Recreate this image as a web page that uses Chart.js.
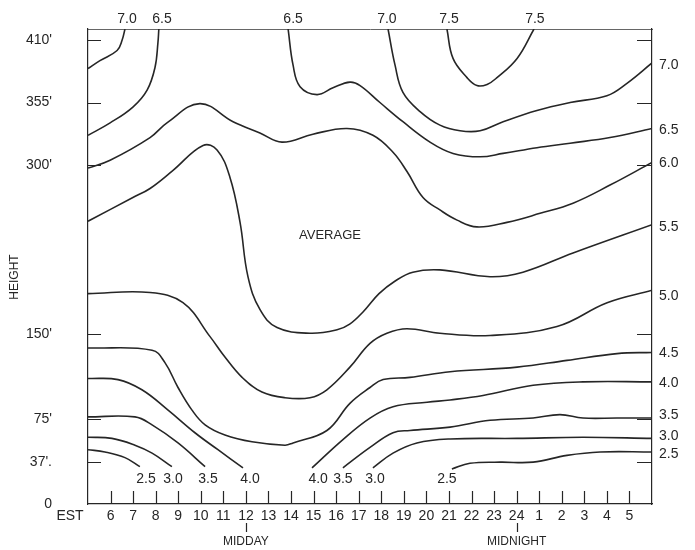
<!DOCTYPE html>
<html>
<head>
<meta charset="utf-8">
<script src="https://cdn.jsdelivr.net/npm/chart.js@4.4.1/dist/chart.umd.min.js"></script>
<style>
  html, body { margin: 0; padding: 0; background: #fff; }
  #wrap { width: 695px; height: 550px; }
</style>
</head>
<body>
<div id="wrap"><canvas id="grafico" width="695" height="550"></canvas></div>
<script>
// horas (EST) y alturas en pies
const hourTicks = [6,7,8,9,10,11,12,13,14,15,16,17,18,19,20,21,22,23,24,25,26,27,28,29];
const heightTicks = [0, 37, 75, 150, 300, 355, 410];
const heightLabels = ["0", "37'.", "75'", "150'", "300'", "355'", "410'"];

// etiquetas de nivel en el borde derecho
const levelNames = ["7.0", "6.5", "6.0", "5.5", "5.0", "4.5", "4.0", "3.5", "3.0", "2.5"];
const levelEndHeights = [388, 331, 301, 245, 184, 133, 107, 79, 60, 44];

// etiquetas de nivel arriba
const topLabelHours = [6.73, 8.28, 14.09, 18.25, 21.0, 24.81];
const topLabelNames = ["7.0", "6.5", "6.5", "7.0", "7.5", "7.5"];

// etiquetas de nivel abajo
const footHours = [7.57, 8.77, 10.32, 12.18, 15.2, 16.3, 17.72, 20.91];
const footNames = ["2.5", "3.0", "3.5", "4.0", "4.0", "3.5", "3.0", "2.5"];
const footHeight = 22;

// isolíneas [hora, altura]
const iso70a = [[5,385],[5.53,392],[6.29,401],[6.51,410],[6.64,420]];
const iso65a = [[5,326],[5.98,337],[6.99,351],[7.62,366],[7.97,386],[8.10,408],[8.14,420]];
const iso65b = [[13.87,420],[14.09,388],[14.40,369],[15.15,362],[15.86,368],[16.61,373],[17.06,370],[17.94,355],[18.96,338],[20.16,320],[21.18,310],[22.38,307],[23.40,310],[24.90,315],[26.37,319],[28.14,324],[30,332]];
const iso70b = [[18.30,420],[18.61,388],[18.96,364],[19.72,347],[20.60,335],[21.49,330],[22.38,330],[23.40,338],[24.90,348],[26.37,355],[28.0,361],[28.89,372],[30,390]];
const iso75 = [[20.91,420],[21.18,394],[21.80,377],[22.24,370],[22.69,371],[23.13,377],[24.02,394],[24.77,420]];
const iso60 = [[5,297],[5.98,304],[7.75,324],[8.50,337],[9.96,354],[11.43,338],[12.62,328],[13.6,320],[14.97,327],[16.48,332],[17.63,326],[18.52,311],[19.14,294],[19.85,271],[20.60,260],[21.36,251],[22.24,245],[23.57,249],[25.04,257],[26.50,266],[28.14,282],[30,302]];
const iso55 = [[5,250],[6.99,271],[7.75,279],[8.77,295],[10.10,317],[10.72,313],[11.29,289],[11.74,249],[12.09,201],[12.62,172],[13.38,156],[14.84,151],[16.04,154],[16.6,159],[17.2,170],[17.9,186],[18.6,197],[19.4,205],[20.60,207],[22.82,201],[24.28,205],[26.50,222],[30,247]];
const iso50 = [[5,186],[7.75,187],[9.21,178],[10.41,148],[11.07,130],[11.83,112],[12.71,99],[13.73,94],[14.84,94],[15.59,101],[16.61,121],[17.50,142],[18.25,151],[19.14,155],[20.60,151],[22.82,149],[25.79,157],[28.01,178],[30,189]];
const iso45 = [[5,138],[7.84,136],[8.41,125],[8.99,103],[9.61,83],[10.19,70],[11.07,61],[12.27,55],[13.73,52],[14.09,54],[15.59,65],[16.61,89],[17.50,103],[18.08,110],[19.27,112],[21.05,117],[24.02,121],[26.23,127],[28.45,133],[30,134]];
const iso40a = [[5,111],[6.33,110],[7.39,101],[8.55,83],[9.74,63],[10.76,48],[11.87,32]];
const iso40b = [[14.93,32],[16.30,57],[17.50,76],[18.52,86],[20.03,90],[21.05,92],[22.51,96],[24.73,105],[26.94,108],[30,108]];
const iso35a = [[5,77],[7.08,77],[7.84,70],[8.99,54],[10.19,33]];
const iso35b = [[16.30,32],[17.50,50],[18.52,63],[19.27,65],[21.05,68],[22.82,74],[24.73,76],[25.92,79],[26.94,76],[28.45,76],[30,76]];
const iso30a = [[5,59],[6.06,58],[7.08,52],[7.84,45],[8.72,33]];
const iso30b = [[17.63,32],[18.52,45],[19.58,54],[21.05,57.5],[24.02,58],[26.94,59],[30,58]];
const iso25a = [[5,48],[5.75,46],[6.64,41],[7.30,33]];
const iso25b = [[21.13,31],[21.93,36],[23.26,37],[24.73,37],[26.23,43],[27.70,46],[30,46]];

const isolineas = [iso70a, iso65a, iso65b, iso70b, iso75, iso60, iso55, iso50, iso45,
                   iso40a, iso40b, iso35a, iso35b, iso30a, iso30b, iso25a, iso25b];

const TINTA = "#262626";
const FUENTE = "'Liberation Sans', Arial, sans-serif";

// sin relleno extra: el ancho/alto de cada eje queda fijo
function fijarCaja(lado, medida) {
    return function (s) {
        s[lado] = medida;
        s.paddingTop = 0; s.paddingBottom = 0;
        s.paddingLeft = 0; s.paddingRight = 0;
    };
}

// marcas interiores, textos sueltos
const decorado = {
    id: "decorado",
    afterDraw(chart) {
        const ctx = chart.ctx;
        const x = chart.scales.x, y = chart.scales.y;
        const area = chart.chartArea;
        ctx.save();
        ctx.strokeStyle = TINTA;
        ctx.lineWidth = 1.2;
        ctx.beginPath();
        hourTicks.forEach(function (h) {
            const px = Math.round(x.getPixelForValue(h)) + 0.5;
            ctx.moveTo(px, area.bottom);
            ctx.lineTo(px, area.bottom - 13);
        });
        heightTicks.forEach(function (v) {
            if (v === 0) return;
            const py = Math.round(y.getPixelForValue(v)) + 0.5;
            ctx.moveTo(area.left, py);
            ctx.lineTo(area.left + 13, py);
            ctx.moveTo(area.right, py);
            ctx.lineTo(area.right - 15, py);
        });
        // rayitas bajo 12 y 24
        [12, 24].forEach(function (h) {
            const px = Math.round(x.getPixelForValue(h)) + 0.5;
            ctx.moveTo(px, 523);
            ctx.lineTo(px, 532);
        });
        ctx.stroke();

        ctx.fillStyle = TINTA;
        ctx.textAlign = "center";
        ctx.textBaseline = "middle";
        ctx.font = "14px " + FUENTE;
        footHours.forEach(function (h, i) {
            ctx.fillText(footNames[i], x.getPixelForValue(h), y.getPixelForValue(footHeight));
        });
        ctx.fillText("EST", 70, 516);
        ctx.font = "13px " + FUENTE;
        ctx.fillText("AVERAGE", 330, 235);
        ctx.font = "12px " + FUENTE;
        ctx.fillText("MIDDAY", x.getPixelForValue(12), 542);
        ctx.fillText("MIDNIGHT", x.getPixelForValue(24), 542);

        ctx.translate(15, 277);
        ctx.rotate(-Math.PI / 2);
        ctx.fillText("HEIGHT", 0, 0);
        ctx.restore();
    }
};

const ctx = document.getElementById("grafico").getContext("2d");
const grafico = new Chart(ctx, {
    type: "line",
    data: {
        datasets: isolineas.map(function (serie) {
            return {
                data: serie.map(function (p) { return { x: p[0], y: p[1] }; }),
                borderColor: TINTA,
                borderWidth: 1.6,
                pointRadius: 0,
                tension: 0.4,
                fill: false
            };
        })
    },
    options: {
        responsive: false,
        devicePixelRatio: 1,
        animation: false,
        layout: { padding: 0 },
        plugins: { legend: { display: false }, tooltip: { enabled: false } },
        scales: {
            x: {
                type: "linear",
                position: "bottom",
                min: 5, max: 30,
                afterBuildTicks: function (s) { s.ticks = hourTicks.map(function (v) { return { value: v }; }); },
                afterFit: fijarCaja("height", 46),
                grid: { display: false, drawTicks: false },
                border: { display: true, color: TINTA, width: 1.2 },
                ticks: {
                    autoSkip: false, maxRotation: 0, padding: 4,
                    color: TINTA, font: { family: FUENTE, size: 14 },
                    callback: function (v) { return v <= 24 ? String(v) : String(v - 24); }
                }
            },
            xTop: {
                type: "linear",
                position: "top",
                min: 5, max: 30,
                afterBuildTicks: function (s) { s.ticks = topLabelHours.map(function (v) { return { value: v }; }); },
                afterFit: fijarCaja("height", 29),
                grid: { display: false, drawTicks: false },
                border: { display: true, color: "#666", width: 1 },
                ticks: {
                    autoSkip: false, maxRotation: 0, padding: 1,
                    color: TINTA, font: { family: FUENTE, size: 14 },
                    callback: function (v, i) { return topLabelNames[i]; }
                }
            },
            y: {
                type: "linear",
                position: "left",
                min: 0, max: 420,
                afterBuildTicks: function (s) { s.ticks = heightTicks.map(function (v) { return { value: v }; }); },
                afterFit: fijarCaja("width", 88),
                grid: { display: false, drawTicks: false },
                border: { display: true, color: TINTA, width: 1.2 },
                ticks: {
                    autoSkip: false, padding: 36,
                    color: TINTA, font: { family: FUENTE, size: 14 },
                    callback: function (v, i) { return heightLabels[i]; }
                }
            },
            yRight: {
                type: "linear",
                position: "right",
                min: 0, max: 420,
                afterBuildTicks: function (s) { s.ticks = levelEndHeights.map(function (v) { return { value: v }; }); },
                afterFit: fijarCaja("width", 43),
                grid: { display: false, drawTicks: false },
                border: { display: true, color: TINTA, width: 1.2 },
                ticks: {
                    autoSkip: false, padding: 7,
                    color: TINTA, font: { family: FUENTE, size: 14 },
                    callback: function (v, i) { return levelNames[i]; }
                }
            }
        }
    },
    plugins: [decorado]
});
</script>
</body>
</html>
